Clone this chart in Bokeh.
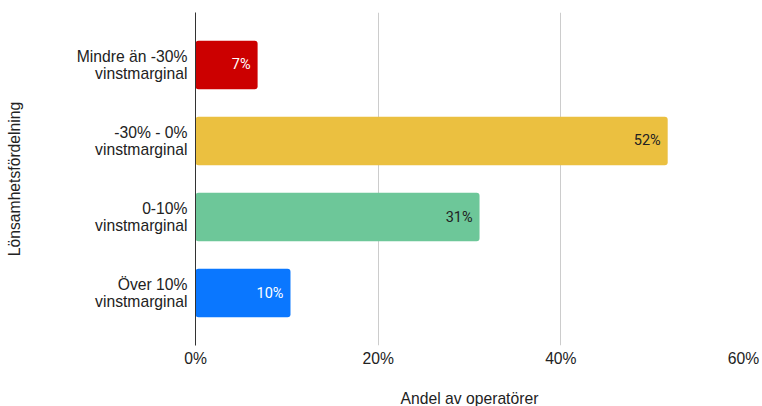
from bokeh.plotting import figure
from bokeh.models import ColumnDataSource, FixedTicker, Range1d
from bokeh.core.properties import value
from bokeh.embed import file_html
from bokeh.resources import INLINE

categories = ["Mindre än -30%\nvinstmarginal", "-30% - 0%\nvinstmarginal",
              "0-10%\nvinstmarginal", "Över 10%\nvinstmarginal"]
shares = [6.8, 51.7, 31.1, 10.4]
share_labels = ["7%", "52%", "31%", "10%"]
colors = ["#CC0000", "#EBC040", "#6DC799", "#0A77FF"]
label_colors = ["#FFFFFF", "#222222", "#222222", "#FFFFFF"]
x_ticks = [0, 20, 40, 60]
x_tick_labels = ["0%", "20%", "40%", "60%"]

ypos = list(range(len(categories)))
src = ColumnDataSource(dict(y=ypos, x=shares, lab=share_labels, c=colors, lc=label_colors))

p = figure(frame_width=548, frame_height=333, output_backend="svg", toolbar_location=None,
           x_range=Range1d(0, 60), y_range=Range1d(3.69, -0.69),
           min_border_left=195, min_border_right=19, min_border_top=12, min_border_bottom=10)
p.outline_line_color = None
p.background_fill_color = "white"

p.hbar(y="y", right="x", left=0, height=0.64, fill_color="c", line_color=None,
       border_radius=3, source=src)
p.text(x="x", y="y", text="lab", text_color="lc", x_offset=-7, text_align="right",
       text_baseline="middle", text_font=value("Roboto"), text_font_size="14.5px", source=src)

FS = "15.7px"
xa = p.xaxis[0]
xa.ticker = FixedTicker(ticks=x_ticks)
xa.major_label_overrides = {t: l for t, l in zip(x_ticks, x_tick_labels)}
xa.axis_line_color = None
xa.major_tick_line_color = None
xa.minor_tick_line_color = None
xa.major_label_text_font = "Liberation Sans"
xa.major_label_text_font_size = FS
xa.major_label_text_color = "#222222"
xa.major_label_standoff = -2
xa.axis_label = "Andel av operatörer"
xa.axis_label_text_font = "Liberation Sans"
xa.axis_label_text_font_size = FS
xa.axis_label_text_font_style = "normal"
xa.axis_label_text_color = "#222222"
xa.axis_label_standoff = 20

ya = p.yaxis[0]
ya.ticker = FixedTicker(ticks=ypos)
ya.major_label_overrides = {i: c for i, c in zip(ypos, categories)}
ya.axis_line_color = "#333333"
ya.axis_line_width = 1
ya.major_tick_line_color = None
ya.minor_tick_line_color = None
ya.major_label_text_font = "Liberation Sans"
ya.major_label_text_font_size = FS
ya.major_label_text_line_height = 1.0
ya.major_label_text_color = "#222222"
ya.major_label_text_align = "right"
ya.major_label_standoff = 2
ya.axis_label = "Lönsamhetsfördelning"
ya.axis_label_text_font = "Liberation Sans"
ya.axis_label_text_font_size = FS
ya.axis_label_text_font_style = "normal"
ya.axis_label_text_color = "#222222"
ya.axis_label_standoff = 51

p.xgrid.grid_line_color = "#CCCCCC"
p.xgrid.ticker = FixedTicker(ticks=x_ticks)
p.ygrid.grid_line_color = None

open("out.html", "w").write(file_html(p, INLINE))
